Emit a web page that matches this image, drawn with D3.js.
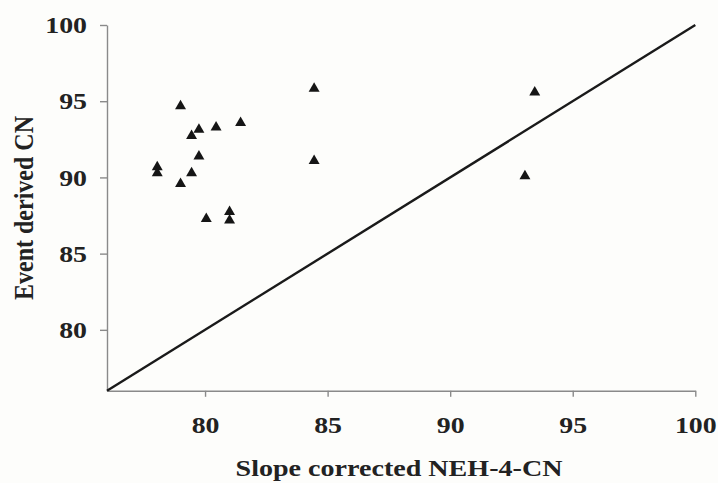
<!DOCTYPE html>
<html>
<head>
<meta charset="utf-8">
<script src="https://cdn.jsdelivr.net/npm/d3@7/dist/d3.min.js"></script>
<style>
  html, body { margin: 0; padding: 0; background: #fdfdfb; }
  svg { display: block; }
  .tick text, .xtitle { transform-box: fill-box; }
  .xaxis .tick text { transform-origin: center; transform: scaleX(1.16); }
  .yaxis .tick text { transform-origin: right center; transform: scaleX(1.16); }
  .xtitle { transform-origin: center; transform: scaleX(1.17); }
</style>
</head>
<body>
<svg id="chart" width="718" height="483"></svg>
<script>
// slope corrected NEH-4 CN (x) vs event derived CN (y)
const slopeCN = [84.45, 84.45, 79.0, 81.45, 80.45, 79.75, 79.45, 79.75, 78.05, 78.05, 79.45, 79.0, 80.05, 81.0, 81.0, 93.45, 93.05];
const eventCN = [95.9, 91.15, 94.75, 93.65, 93.35, 93.2, 92.8, 91.45, 90.75, 90.35, 90.35, 89.65, 87.35, 87.8, 87.25, 95.65, 90.15];
const xTicks = [80, 85, 90, 95, 100];
const yTicks = [80, 85, 90, 95, 100];
const axisMin = 76, axisMax = 100;
const lineEnds = [axisMin, axisMax]; // 1:1 line

const svg = d3.select("#chart");
const font = "'Liberation Serif', 'Times New Roman', serif";

const x = d3.scaleLinear().domain([axisMin, axisMax]).range([107, 695.3]);
const y = d3.scaleLinear().domain([axisMin, axisMax]).range([390.8, 25]);

const axisColor = "#8a8a8a";

// x axis
const gx = svg.append("g")
  .attr("class", "xaxis")
  .attr("transform", `translate(0,${y(axisMin)})`)
  .call(d3.axisBottom(x).tickValues(xTicks).tickSizeInner(6).tickSizeOuter(0).tickPadding(19).tickFormat(d3.format("d")));

// y axis
const gy = svg.append("g")
  .attr("class", "yaxis")
  .attr("transform", `translate(${x(axisMin)},0)`)
  .call(d3.axisLeft(y).tickValues(yTicks).tickSizeInner(7).tickSizeOuter(0).tickPadding(13).tickFormat(d3.format("d")));

[gx, gy].forEach(g => {
  g.select(".domain").attr("stroke", axisColor).attr("stroke-width", 1.4);
  g.selectAll(".tick line").attr("stroke", axisColor).attr("stroke-width", 1.4);
  g.selectAll(".tick text")
    .attr("fill", "#222")
    .style("font-family", font)
    .style("font-size", "24px")
    .style("font-weight", "bold");
});

// 1:1 line
svg.append("line")
  .attr("x1", x(lineEnds[0]))
  .attr("y1", y(lineEnds[0]))
  .attr("x2", x(lineEnds[1]))
  .attr("y2", y(lineEnds[1]))
  .attr("stroke", "#1a1a1a")
  .attr("stroke-width", 2.4);

// points
const pts = slopeCN.map((v, i) => ({ x: v, y: eventCN[i] }));
svg.selectAll(".pt")
  .data(pts)
  .enter()
  .append("path")
  .attr("class", "pt")
  .attr("d", d3.symbol().type(d3.symbolTriangle).size(52))
  .attr("transform", d => `translate(${x(d.x)},${y(d.y) + 1})`)
  .attr("fill", "#151515");

// axis titles
svg.append("text")
  .attr("class", "xtitle")
  .attr("x", 399)
  .attr("y", 476)
  .attr("text-anchor", "middle")
  .attr("fill", "#222")
  .style("font-family", font)
  .style("font-size", "24px")
  .style("font-weight", "bold")
  .text("Slope corrected NEH-4-CN");

svg.append("g")
  .attr("transform", "translate(33,208) rotate(-90)")
  .append("text")
  .attr("transform", "scale(1,1.16)")
  .attr("text-anchor", "middle")
  .attr("fill", "#222")
  .style("font-family", font)
  .style("font-size", "24px")
  .style("font-weight", "bold")
  .text("Event derived CN");
</script>
</body>
</html>
